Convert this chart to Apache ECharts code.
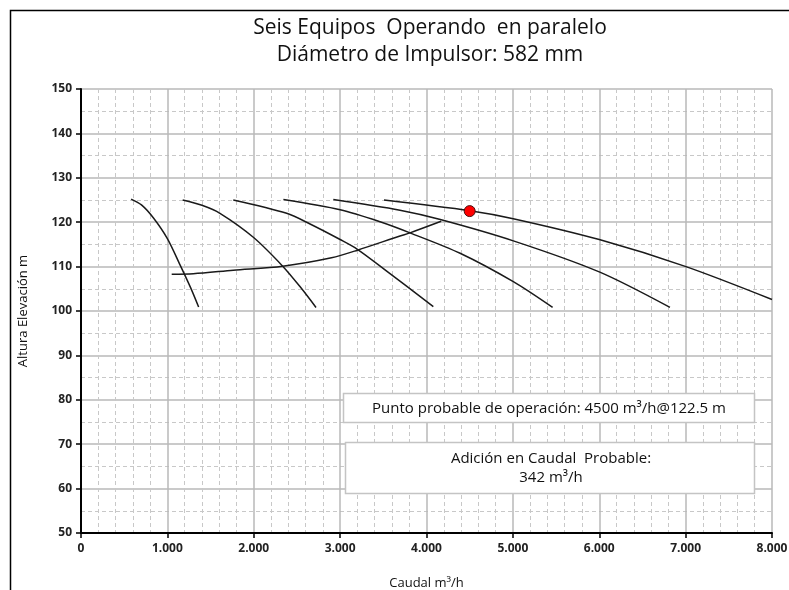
<!DOCTYPE html>
<html>
<head>
<meta charset="UTF-8">
<title>Seis Equipos Operando en paralelo</title>
<script src="https://cdn.jsdelivr.net/npm/echarts@6/dist/echarts.min.js"></script>
<style>
  html, body { margin: 0; padding: 0; background: #fff; }
</style>
</head>
<body>
<div id="main" style="width: 789px;height:590px;"></div>

<script type="text/javascript">
// curvas de bomba (caudal m3/h, altura m)
var bomba1 = [[580,125.2],[700,123.9],[837,121.0],[1000,116.3],[1146,110.4],[1270,105.2],[1362,100.9]];
var bomba2 = [[1177,125.0],[1400,123.8],[1609,122.0],[1995,116.6],[2335,110.1],[2535,105.5],[2721,100.8]];
var bomba3 = [[1763,125.0],[2381,122.0],[2652,119.6],[3000,116.1],[3200,113.9],[3539,109.0],[4079,101.0]];
var bomba4 = [[2343,125.1],[3000,122.8],[3462,120.1],[3809,117.6],[4389,113.0],[5005,106.6],[5460,100.8]];
var bomba5 = [[2921,125.1],[3693,122.7],[4160,120.6],[5005,115.8],[6000,108.8],[6819,100.8]];
var bomba6 = [[3508,125.0],[4503,122.6],[5004,120.8],[6000,116.1],[7004,110.0],[8000,102.6]];
// curva del sistema
var sistema = [[1050,108.3],[1300,108.4],[1763,109.2],[2335,110.1],[2900,112.0],[3200,113.7],[3693,116.9],[3809,117.6],[4170,120.2]];
// punto de operacion
var puntoOperacion = [4500, 122.5];
var adicionCaudal = 342;

var curvas = [bomba1, bomba2, bomba3, bomba4, bomba5, bomba6, sistema];

var fuente = 'Open Sans';
var myChart = echarts.init(document.getElementById('main'));

function miles(v) {
    return String(v).replace(/\B(?=(\d{3})+(?!\d))/g, '.');
}

var series = curvas.map(function (c) {
    return {
        type: 'line',
        data: c,
        smooth: 0.3,
        showSymbol: false,
        silent: true,
        lineStyle: { color: '#1a1a1a', width: 1.5 }
    };
});
series.push({
    type: 'scatter',
    data: [puntoOperacion],
    symbolSize: 11,
    z: 5,
    itemStyle: { color: '#ff0000', borderColor: '#4a1010', borderWidth: 1, opacity: 1 }
});

var option = {
    animation: false,
    title: {
        text: 'Seis Equipos  Operando  en paralelo\nDiámetro de Impulsor: 582 mm',
        left: 425,
        top: 10,
        textAlign: 'center',
        textStyle: { fontFamily: fuente, fontSize: 21, fontWeight: 'normal', color: '#111', lineHeight: 27 }
    },
    grid: { left: 81, right: 17, top: 89, bottom: 57, outerBoundsMode: 'none' },
    xAxis: {
        type: 'value',
        min: 0, max: 8000, interval: 1000,
        name: 'Caudal m³/h',
        nameLocation: 'middle',
        nameGap: 44,
        nameTextStyle: { fontFamily: fuente, fontSize: 13, color: '#111' },
        axisLine: { show: true, onZero: false, lineStyle: { color: '#000', width: 2 } },
        axisTick: { show: true, length: 5, lineStyle: { color: '#000', width: 1.5 } },
        axisLabel: { margin: 10, fontFamily: fuente, fontSize: 12, fontWeight: 'bold', color: '#222', formatter: miles },
        splitLine: { show: true, lineStyle: { color: '#b8b8b8', width: 1.5 } },
        minorTick: { show: false, splitNumber: 5 },
        minorSplitLine: { show: true, lineStyle: { color: '#c8c8c8', width: 1, type: [4, 3] } }
    },
    yAxis: {
        type: 'value',
        min: 50, max: 150, interval: 10,
        name: 'Altura Elevación m',
        nameLocation: 'middle',
        nameGap: 51,
        nameRotate: 90,
        nameTextStyle: { fontFamily: fuente, fontSize: 13, color: '#111' },
        axisLine: { show: true, lineStyle: { color: '#000', width: 2 } },
        axisTick: { show: true, length: 5, lineStyle: { color: '#000', width: 1.5 } },
        axisLabel: { margin: 9, fontFamily: fuente, fontSize: 12, fontWeight: 'bold', color: '#222' },
        splitLine: { show: true, lineStyle: { color: '#b8b8b8', width: 1.5 } },
        minorTick: { show: false, splitNumber: 2 },
        minorSplitLine: { show: true, lineStyle: { color: '#c8c8c8', width: 1, type: [4, 3] } }
    },
    graphic: [
        {
            type: 'rect', silent: true, z: 100,
            shape: { x: 10.5, y: 10.5, width: 820, height: 620 },
            style: { fill: 'none', stroke: '#000', lineWidth: 1.5 }
        },
        {
            type: 'rect', z: 100,
            shape: { x: 343.5, y: 393.5, width: 411, height: 29 },
            style: { fill: '#fff', stroke: '#c4c4c4', lineWidth: 1.5 }
        },
        {
            type: 'text', z: 101,
            x: 549, y: 409,
            style: {
                text: 'Punto probable de operación: ' + puntoOperacion[0] + ' m³/h@' + puntoOperacion[1] + ' m',
                fontFamily: fuente, fontSize: 15, fill: '#111',
                align: 'center', verticalAlign: 'middle'
            }
        },
        {
            type: 'rect', z: 100,
            shape: { x: 345.5, y: 442.5, width: 409, height: 51 },
            style: { fill: '#fff', stroke: '#c4c4c4', lineWidth: 1.5 }
        },
        {
            type: 'text', z: 101,
            x: 551, y: 468,
            style: {
                text: 'Adición en Caudal  Probable:\n' + adicionCaudal + ' m³/h',
                fontFamily: fuente, fontSize: 15, fill: '#111', lineHeight: 19,
                align: 'center', verticalAlign: 'middle'
            }
        }
    ],
    series: series
};

myChart.setOption(option);
</script>
</body>
</html>
